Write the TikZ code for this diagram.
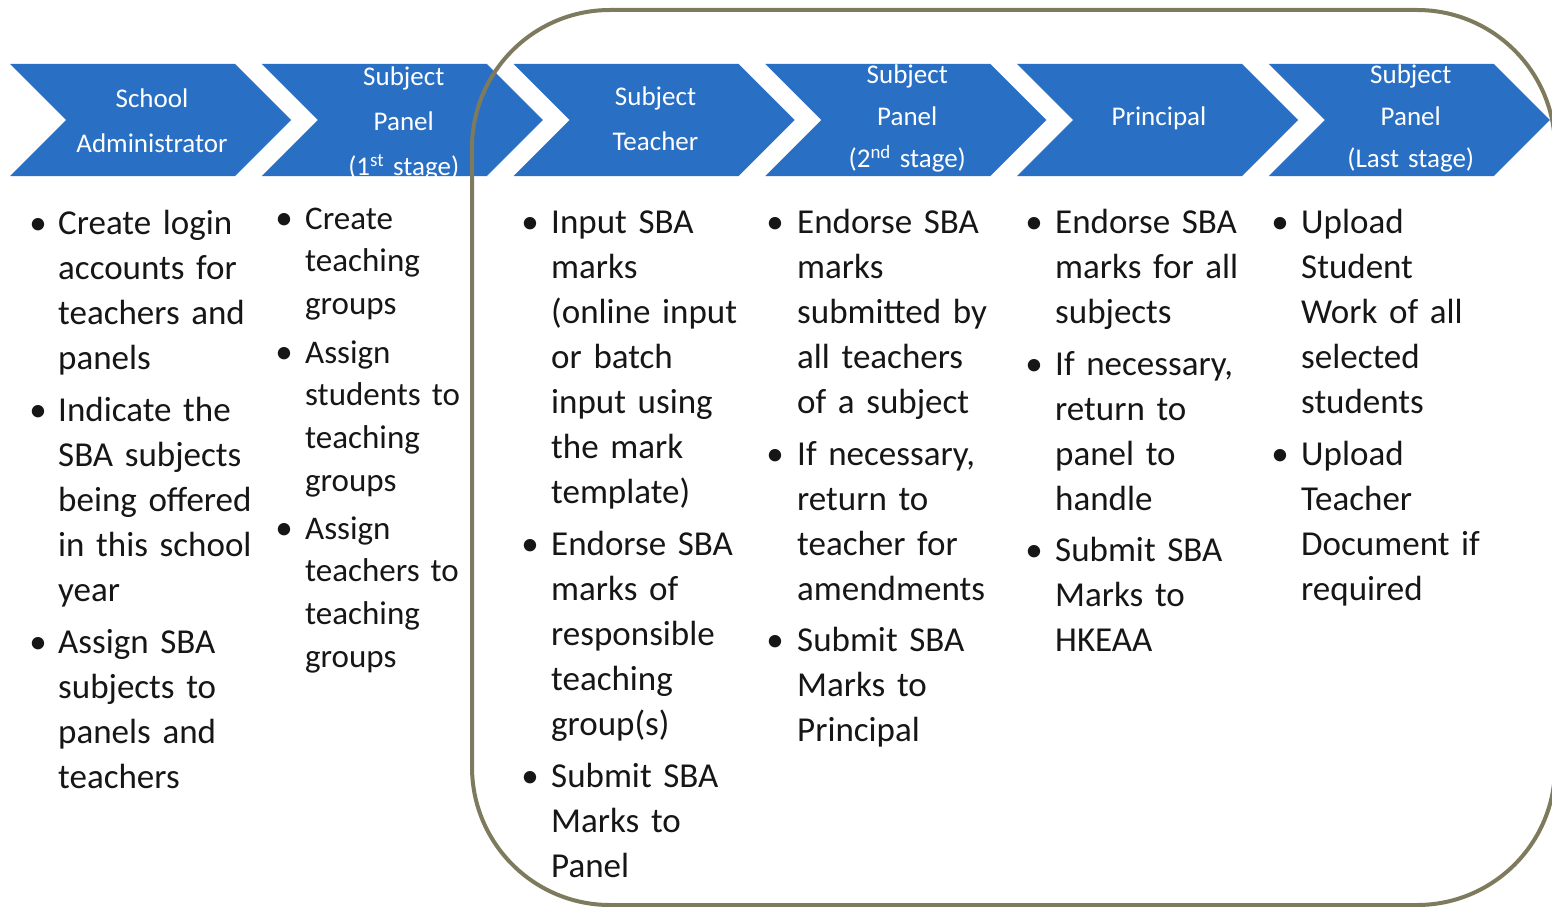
\documentclass[tikz,border=0pt]{standalone}
\usepackage{fontspec}
\setmainfont{Carlito}
\definecolor{chevblue}{RGB}{41,111,196}
\definecolor{framecol}{RGB}{126,122,93}
\definecolor{txtblack}{RGB}{22,22,22}
\tikzset{
  chev/.style={fill=chevblue, draw=none},
  chevbase/.style={text=white, align=center, text width=260pt, inner sep=0pt, anchor=north},
  chevtxt/.style={chevbase, font=\fontsize{27}{45}\selectfont, yshift=31.5pt},
  chevtxtb/.style={chevbase, font=\fontsize{27}{42}\selectfont, yshift=29.4pt},
  bodybase/.style={text=txtblack, align=left, text width=250pt, inner sep=0pt, anchor=north west},
  bodytxt/.style={bodybase, font=\fontsize{35}{45}\selectfont, yshift=31.5pt},
  bodysm/.style={bodybase, font=\fontsize{33}{42.7}\selectfont, yshift=29.89pt},
  bulmark/.style={text=txtblack, inner sep=0pt, anchor=base, font=\fontsize{35}{45}\selectfont},
  frameline/.style={draw=framecol, line width=4pt, rounded corners=138pt}
}
\newcommand{\bitem}[6]{%
  \node[#2] (#1) at (#4,#5) {\strut #6};
  \node[bulmark] (#1b) at (#3,#5) {\textbullet};
}
\begin{document}
\begin{tikzpicture}[x=1pt,y=-1pt]
\fill[white] (0,0) rectangle (1552,907);
\useasboundingbox (0,0) rectangle (1552,907);

% chevrons
\foreach \x in {10,261.75,513.5,765.25,1017,1268.75}
  \fill[chev] (\x,64) -- ++(225,0) -- ++(56,56) -- ++(-56,56) -- ++(-225,0) -- ++(56,-56) -- cycle;

% chevron labels
\node[chevtxt] (h1) at (152,107) {\strut School\\Administrator};
\begin{scope}
  \clip (261.75,64) -- ++(225,0) -- ++(56,56) -- ++(-56,56) -- ++(-225,0) -- ++(56,-56) -- cycle;
  \node[chevtxt] (h2) at (403.75,85) {\strut Subject\\Panel\\(1\textsuperscript{st} stage)};
\end{scope}
\node[chevtxt] (h3) at (655.5,105) {\strut Subject\\Teacher};
\node[chevtxtb] (h4) at (907.25,83) {\strut Subject\\Panel\\(2\textsuperscript{nd} stage)};
\node[chevtxt] (h5) at (1159,125) {\strut Principal};
\node[chevtxtb] (h6) at (1410.75,83) {\strut Subject\\Panel\\(Last stage)};

% column 1
\bitem{a1}{bodytxt}{38}{58}{234}{Create login\\accounts for\\teachers and\\panels}
\bitem{a2}{bodytxt}{38}{58}{421}{Indicate the\\SBA subjects\\being offered\\in this school\\year}
\bitem{a3}{bodytxt}{38}{58}{653}{Assign SBA\\subjects to\\panels and\\teachers}

% column 2
\bitem{b1}{bodysm}{284}{305}{229}{Create\\teaching\\groups}
\bitem{b2}{bodysm}{284}{305}{363}{Assign\\students to\\teaching\\groups}
\bitem{b3}{bodysm}{284}{305}{539}{Assign\\teachers to\\teaching\\groups}

% column 3
\bitem{c1}{bodytxt}{530}{551}{233}{Input SBA\\marks\\(online input\\or batch\\input using\\the mark\\template)}
\bitem{c2}{bodytxt}{530}{551}{555}{Endorse SBA\\marks of\\responsible\\teaching\\group(s)}
\bitem{c3}{bodytxt}{530}{551}{787}{Submit SBA\\Marks to\\Panel}

% column 4
\bitem{d1}{bodytxt}{775}{797}{233}{Endorse SBA\\marks\\submitted by\\all teachers\\of a subject}
\bitem{d2}{bodytxt}{775}{797}{465}{If necessary,\\return to\\teacher for\\amendments}
\bitem{d3}{bodytxt}{775}{797}{651}{Submit SBA\\Marks to\\Principal}

% column 5
\bitem{e1}{bodytxt}{1034}{1055}{233}{Endorse SBA\\marks for all\\subjects}
\bitem{e2}{bodytxt}{1034}{1055}{375}{If necessary,\\return to\\panel to\\handle}
\bitem{e3}{bodytxt}{1034}{1055}{561}{Submit SBA\\Marks to\\HKEAA}

% column 6
\bitem{f1}{bodytxt}{1280}{1301}{233}{Upload\\Student\\Work of all\\selected\\students}
\bitem{f2}{bodytxt}{1280}{1301}{465}{Upload\\Teacher\\Document if\\required}

% rounded frame
\draw[frameline] (472,10) rectangle (1555,905);
\end{tikzpicture}
\end{document}
